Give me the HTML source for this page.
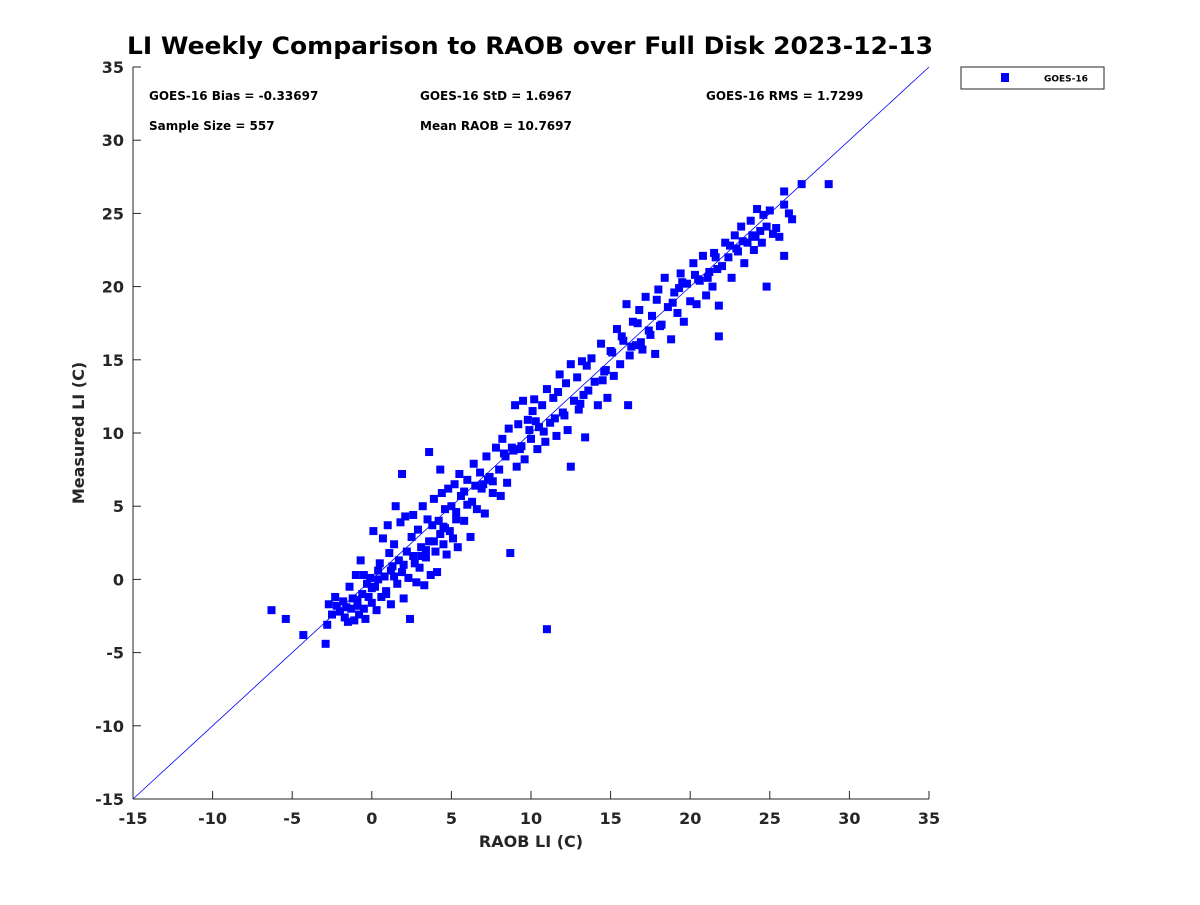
<!DOCTYPE html>
<html><head><meta charset="utf-8"><style>
body{margin:0;background:#fff;}
svg text{font-family:"DejaVu Sans","Liberation Sans",sans-serif;font-weight:bold;fill:#262626;}
</style></head><body>
<svg id="chart" width="1200" height="900" xmlns="http://www.w3.org/2000/svg">
<rect width="1200" height="900" fill="#fff"/>
<text x="530" y="54" font-size="24" text-anchor="middle" textLength="806" lengthAdjust="spacingAndGlyphs" style="fill:#000">LI Weekly Comparison to RAOB over Full Disk 2023-12-13</text>
<g id="stats" font-size="12">
<text x="149" y="100" style="fill:#000">GOES-16 Bias = -0.33697</text>
<text x="420" y="100" style="fill:#000">GOES-16 StD = 1.6967</text>
<text x="706" y="100" style="fill:#000">GOES-16 RMS = 1.7299</text>
<text x="149" y="130" style="fill:#000">Sample Size = 557</text>
<text x="420" y="130" style="fill:#000">Mean RAOB = 10.7697</text>
</g>
<g>
<rect x="961" y="67" width="143" height="22" fill="#fff" stroke="#262626" stroke-width="1"/>
<rect x="1001" y="73" width="8" height="9" fill="#0000ff"/>
<text x="1044" y="81.5" font-size="9" style="fill:#000">GOES-16</text>
</g>
<g id="axes"></g>
<g id="marks"></g>
<text x="531" y="847" font-size="16" text-anchor="middle">RAOB LI (C)</text>
<text transform="translate(84,433) rotate(-90)" font-size="16" text-anchor="middle">Measured LI (C)</text>
</svg>
<script>
const xTicks=[-15,-10,-5,0,5,10,15,20,25,30,35];
const yTicks=[-15,-10,-5,0,5,10,15,20,25,30,35];
const raob=[-6.3,-5.4,-4.3,-2.9,11,8.7,3.6,1.9,4.3,12.5,28.7,27,25.9,24.8,21.8,16.1,25.9,
-2.8,-2.7,-2.5,-2.2,-2,-1.8,-1.7,-1.5,-1.4,-1.3,-1.2,-1.1,-1,-0.9,-0.8,-0.7,-0.6,-0.5,-0.4,-0.3,-0.2,-0.1,0,0.1,0.2,0.3,0.4,0.5,0.6,0.7,0.8,0.9,1.0,1.1,1.2,1.3,1.4,1.5,1.6,1.7,1.8,1.9,2.0,2.1,2.2,2.3,2.4,2.5,2.6,2.7,2.8,2.9,3.0,3.1,3.2,3.3,3.4,3.5,3.6,3.7,3.8,3.9,4.0,4.1,4.2,4.3,4.4,4.5,4.6,4.7,4.8,4.9,5.0,5.1,5.2,5.3,5.4,5.5,5.6,5.8,6.0,6.2,6.3,6.4,6.5,6.6,6.8,7.0,7.1,7.2,7.4,7.6,7.8,8.0,8.1,8.2,8.4,8.5,8.6,8.8,9.0,9.1,9.2,9.4,9.5,9.6,9.8,10.0,10.1,10.2,10.4,10.5,10.7,10.9,11.0,11.2,11.4,11.6,11.8,12.0,12.2,12.3,12.5,12.7,12.9,13.0,13.2,13.4,13.6,13.8,14.0,14.2,14.4,14.6,14.8,15.0,15.2,15.4,15.6,15.8,16.0,16.2,16.4,16.6,16.8,17.0,17.2,17.4,17.6,17.8,18.0,18.2,18.4,18.6,18.8,19.0,19.2,19.4,19.6,19.8,20.0,20.2,20.4,20.6,20.8,21.0,21.2,21.4,21.6,21.8,22.0,22.2,22.4,22.6,22.8,23.0,23.2,23.4,23.6,23.8,24.0,24.2,24.4,24.6,24.8,25.0,25.2,25.4,25.6,25.9,26.2,26.4,
-1.6,-0.9,0.4,1.2,2.0,3.4,4.6,6.0,7.6,9.3,10.8,12.1,13.3,14.5,15.7,16.9,18.1,19.3,20.5,21.7,22.9,24.1,
-2.3,-0.5,0.9,2.6,3.9,5.3,6.9,8.3,9.9,11.5,13.1,14.7,16.3,17.5,18.9,20.3,21.5,23.3,24.5,
0.0,1.4,3.1,4.5,5.8,7.3,8.9,10.3,11.7,13.5,15.1,16.7,17.9,19.5,21.1,22.5,23.9];
const measured=[-2.1,-2.7,-3.8,-4.4,-3.4,1.8,8.7,7.2,7.5,7.7,27,27,26.5,20,16.6,11.9,22.1,
-3.1,-1.7,-2.4,-1.8,-2.2,-1.5,-2.6,-2.9,-0.5,-2.0,-1.3,-2.8,0.3,-1.8,-2.4,1.3,-1.0,0.3,-2.7,-0.3,-1.2,0.1,-1.6,3.3,-0.5,-2.1,0.6,1.1,-1.2,2.8,0.2,-0.8,3.7,1.8,-1.7,0.9,2.4,5.0,-0.3,1.3,3.9,0.5,-1.3,4.3,1.9,0.1,-2.7,2.9,4.4,1.1,-0.2,3.4,0.8,2.2,5.0,-0.4,1.5,4.1,2.6,0.3,3.7,5.5,1.9,0.5,4.0,3.1,5.9,2.4,4.8,1.7,6.2,3.3,5.0,2.8,6.5,4.1,2.2,7.2,5.7,4.0,6.8,2.9,5.3,7.9,6.4,4.8,7.3,6.5,4.5,8.4,7.0,5.9,9.0,7.5,5.7,9.6,8.4,6.6,10.3,9.0,11.9,7.7,10.6,9.1,12.2,8.2,10.9,9.6,11.5,12.3,8.9,10.4,11.9,9.4,13.0,10.7,12.4,9.8,14.0,11.4,13.4,10.2,14.7,12.2,13.8,11.6,14.9,9.7,12.9,15.1,13.5,11.9,16.1,14.2,12.4,15.6,13.9,17.1,14.7,16.3,18.8,15.3,17.6,16.0,18.4,15.7,19.3,17.0,18.0,15.4,19.8,17.4,20.6,18.6,16.4,19.6,18.2,20.9,17.6,20.2,19.0,21.6,18.8,20.4,22.1,19.4,21.0,20.0,22.0,18.7,21.4,23.0,22.0,20.6,23.5,22.4,24.1,21.6,23.0,24.5,22.5,25.3,23.8,24.9,24.1,25.2,23.6,24.0,23.4,25.6,25.0,24.6,
-1.9,-1.4,0.0,0.6,1.0,2.0,3.5,5.1,6.7,8.9,10.1,11.2,12.6,13.6,16.6,16.2,17.3,19.9,20.5,21.2,22.6,23.4,
-1.2,-2.0,-1.0,1.6,2.6,4.6,6.2,8.6,10.2,11.0,12.0,14.3,15.9,16.7,18.9,20.8,22.3,23.1,23.0,
-0.6,0.2,1.6,3.6,6.0,6.8,8.8,10.8,12.8,14.6,15.5,17.5,19.1,20.3,20.6,22.8,23.5];
const L=133,R=929,T=67,B=799,lo=-15,hi=35;
const xs=v=>L+(v-lo)/(hi-lo)*(R-L);
const ys=v=>B-(v-lo)/(hi-lo)*(B-T);
const NS="http://www.w3.org/2000/svg";
const ax=document.getElementById('axes'), mk=document.getElementById('marks');
function mkEl(t,a,p){const e=document.createElementNS(NS,t);for(const k in a)e.setAttribute(k,a[k]);p.appendChild(e);return e;}
const xl=mkEl('line',{x1:L,y1:B,x2:R,y2:B,stroke:'#262626','stroke-width':1},ax);


const yl=mkEl('line',{x1:L,y1:T,x2:L,y2:B,stroke:'#262626','stroke-width':1},ax);


xTicks.forEach(v=>{
  mkEl('line',{x1:xs(v),y1:B,x2:xs(v),y2:B-8,stroke:'#262626'},ax);
  const t=mkEl('text',{x:xs(v),y:B+25,'font-size':16,'text-anchor':'middle'},ax);
  t.textContent=v;
  
  
});
yTicks.forEach(v=>{
  mkEl('line',{x1:L,y1:ys(v),x2:L+8,y2:ys(v),stroke:'#262626'},ax);
  const t=mkEl('text',{x:L-9,y:ys(v)+6,'font-size':16,'text-anchor':'end'},ax);
  t.textContent=v;
  
  
});
const one=mkEl('line',{x1:xs(lo),y1:ys(lo),x2:xs(hi),y2:ys(hi),stroke:'#0000ff','stroke-width':0.8},mk);


raob.forEach((x,i)=>{
  const r=mkEl('rect',{x:xs(x)-4,y:ys(measured[i])-4,width:8,height:8,fill:'#0000ff'},mk);
  
  
});
</script>
</body></html>
